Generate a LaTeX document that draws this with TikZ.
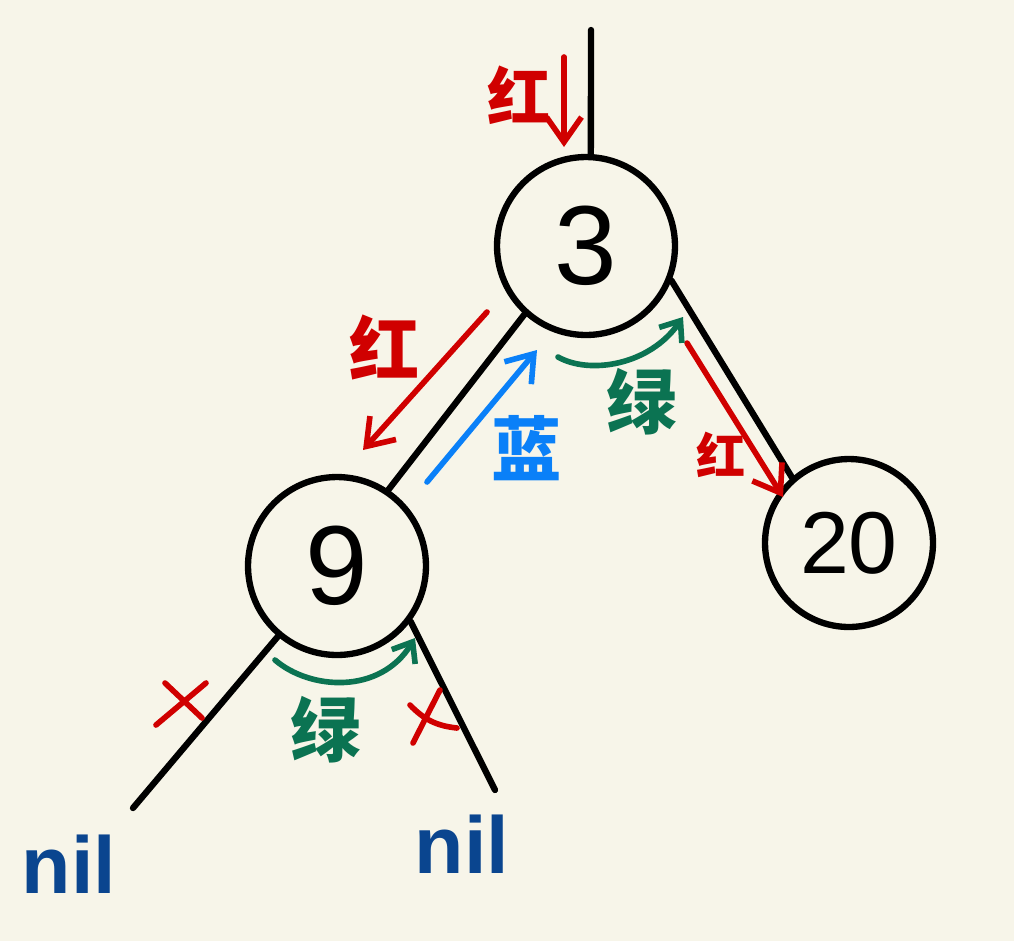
\documentclass[tikz,border=0pt]{standalone}
\usepackage{fontspec}
\setmainfont{Liberation Sans}
\newfontfamily\cjk{Noto Sans CJK SC}
\usepackage{xcolor}
\usetikzlibrary{arrows.meta, positioning, calc}

\definecolor{paper}{HTML}{F7F5E9}
\definecolor{penred}{HTML}{D00000}
\definecolor{penblue}{HTML}{0A80F8}
\definecolor{pengreen}{HTML}{0B7352}
\definecolor{pennavy}{HTML}{0A458F}

\begin{document}
\begin{tikzpicture}[
        x=0.02cm, y=-0.02cm,
        treenode/.style={circle, draw, line width=3.6pt, inner sep=0pt, font=\fontsize{64}{64}\selectfont},
        edge/.style={line width=3.6pt, line cap=round},
        hint/.style={line width=3.2pt, line cap=round, -{Straight Barb[length=5mm, width=7mm, line width=3.2pt]}},
        turn/.style={line width=3.2pt, line cap=round, pengreen, -{Straight Barb[length=3.5mm, width=5.5mm, line width=3.2pt]}},
        tag/.style={font=\cjk\bfseries\fontsize{40}{40}\selectfont},
        leaf/.style={pennavy, font=\bfseries\fontsize{46}{46}\selectfont}
    ]
    \useasboundingbox[fill=paper] (0,0) rectangle (1014,941);

    % Tree nodes
    \node[treenode, minimum size=3.56cm] (n3) at (586,246) {3};
    \node[treenode, minimum size=3.56cm] (n9) at (337,566) {9};
    \node[treenode, minimum size=3.36cm, font=\fontsize{50}{50}\selectfont] (n20) at (849,543) {20};

    % Leaves
    \node[leaf] (nilL) at (69,864) {nil};
    \node[leaf] (nilR) at (462,844) {nil};
    \coordinate (root) at (591,30);
    \coordinate (endL) at (133,808);
    \coordinate (endR) at (495,790);

    % Edges
    \draw[edge] (root) -- (n3.87);
    \draw[edge] (n3.228) -- (n9.56);
    \draw[edge] (n3.-22) -- (n20.131);
    \draw[edge] (n9.230) -- (endL);
    \draw[edge] (n9.-37) -- (endR);

    % Traversal hints
    \coordinate (a1s) at (564,57);  \coordinate (a1e) at (564,147);
    \coordinate (a2s) at (487,312); \coordinate (a2e) at (363,450);
    \coordinate (a3s) at (427,482); \coordinate (a3e) at (537,350);
    \coordinate (a4s) at (687,343); \coordinate (a4e) at (783,497);
    \draw[hint, penred] (a1s) -- (a1e);
    \draw[hint, penred] (a2s) -- (a2e);
    \draw[hint, penblue] (a3s) -- (a3e);
    \draw[hint, penred] (a4s) -- (a4e);

    \coordinate (g1s) at (558,357); \coordinate (g1e) at (683,317);
    \coordinate (g2s) at (275,660); \coordinate (g2e) at (415,638);
    \draw[turn] (g1s) .. controls (590,375) and (650,365) .. (g1e);
    \draw[turn] (g2s) .. controls (310,690) and (380,695) .. (g2e);

    % Labels
    \node[tag, penred, font=\cjk\bfseries\fontsize{36}{36}\selectfont] (t1) at (519,95) {红};
    \node[tag, penred] (t2) at (385,347) {红};
    \node[tag, penblue] (t3) at (527,448) {蓝};
    \node[tag, pengreen] (t4) at (642,402) {绿};
    \node[tag, penred, font=\cjk\bfseries\fontsize{28}{28}\selectfont] (t5) at (721,455) {红};
    \node[tag, pengreen] (t6) at (326,730) {绿};

    % Cut marks
    \draw[penred, line width=3.2pt, line cap=round] (165,683) -- (202,718) (206,683) -- (156,725);
    \draw[penred, line width=3.2pt, line cap=round] (410,705) to[bend right=20] (457,728) (440,690) -- (413,743);

\end{tikzpicture}
\end{document}
